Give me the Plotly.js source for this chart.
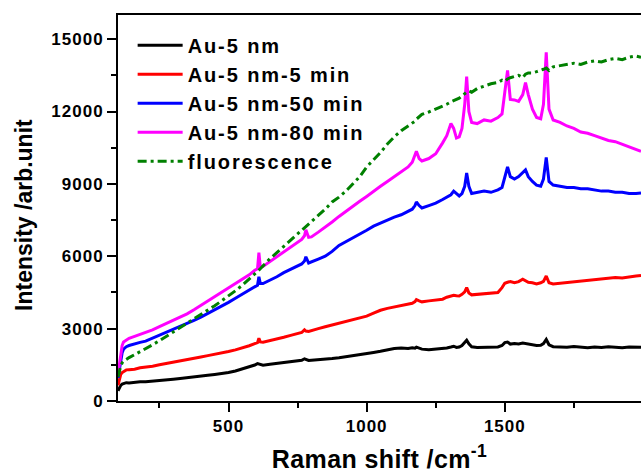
<!DOCTYPE html>
<html>
<head>
<meta charset="utf-8">
<script src="https://cdn.plot.ly/plotly-3.0.1.min.js"></script>
<style>
html,body{margin:0;padding:0;background:#fff;}
#chart{width:641px;height:473px;}
#chart .legendtext{letter-spacing:1.9px;}
#chart .legend .scrollbox{clip-path:none !important;}
#chart .xtick text, #chart .ytick text{letter-spacing:1px;}
#chart .xtitle{letter-spacing:0.4px;}
</style>
</head>
<body>
<div id="chart"></div>
<script>
// Raman shift (cm^-1)
var ramanShift = [100,105,110,115,120,130,140,160,180,200,
225,250,275,300,325,350,375,400,425,450,
475,500,525,550,575,595,605,610,615,625,
650,675,700,725,750,765,775,780,790,800,
825,850,875,900,925,950,975,1000,1025,1050,
1075,1100,1125,1150,1165,1175,1180,1190,1200,1225,
1250,1275,1290,1305,1315,1325,1335,1345,1355,1362,
1370,1380,1400,1425,1450,1475,1490,1500,1510,1520,
1535,1550,1565,1575,1585,1600,1615,1630,1640,1650,
1660,1675,1700,1725,1750,1775,1800,1825,1850,1875,
1900,1925,1950,1975,1993];

var seriesNames = ['Au-5 nm','Au-5 nm-5 min','Au-5 nm-50 min','Au-5 nm-80 min','fluorescence'];

var au5 = [420,560,650,700,730,760,745,780,800,795,
830,865,880,905,935,960,1000,1025,1065,1100,
1130,1180,1245,1330,1420,1490,1550,1530,1500,1485,
1520,1555,1600,1615,1650,1690,1750,1720,1680,1690,
1705,1740,1760,1790,1830,1870,1900,1950,2010,2060,
2120,2180,2200,2180,2210,2190,2230,2190,2150,2120,
2140,2180,2200,2240,2270,2220,2240,2300,2420,2520,
2370,2250,2220,2230,2220,2240,2300,2420,2440,2360,
2380,2360,2400,2380,2350,2320,2300,2310,2380,2550,
2330,2250,2240,2230,2260,2230,2210,2240,2220,2250,
2230,2210,2240,2220,2230];

var au5_5min = [650,900,1100,1180,1230,1290,1300,1320,1380,1400,
1440,1500,1550,1600,1660,1720,1760,1820,1880,1930,
1990,2050,2120,2200,2290,2380,2420,2600,2450,2440,
2500,2560,2640,2720,2800,2840,2950,2900,2880,2920,
3000,3080,3150,3220,3290,3360,3430,3520,3640,3760,
3840,3900,3960,4010,4050,4120,4200,4150,4110,4150,
4180,4220,4300,4340,4380,4360,4350,4420,4520,4700,
4480,4400,4420,4430,4460,4500,4700,4880,4920,4950,
4900,4950,5050,4980,4920,4900,4850,4900,4960,5180,
4900,4850,4880,4930,4960,5000,5020,5050,5080,5100,
5120,5100,5150,5180,5200];

var au5_50min = [950,1300,1700,2000,2150,2250,2300,2380,2430,2480,
2600,2720,2830,2950,3070,3200,3340,3480,3630,3770,
3930,4090,4260,4430,4600,4740,4800,5150,4880,4870,
5000,5150,5320,5450,5600,5680,5800,5980,5720,5760,
5880,6000,6200,6450,6600,6750,6900,7080,7250,7380,
7500,7620,7720,7850,7950,8100,8250,8100,8000,8100,
8200,8350,8450,8550,8700,8600,8500,8600,8900,9450,
8900,8600,8650,8700,8650,8750,8850,9300,9700,9300,
9200,9300,9450,9580,9300,9100,8950,8900,9200,10100,
9100,8950,8900,8850,8850,8800,8800,8750,8700,8700,
8650,8650,8600,8600,8620];

var au5_80min = [1100,1500,1900,2300,2450,2530,2600,2680,2760,2830,
2950,3080,3210,3340,3470,3610,3780,3960,4140,4320,
4500,4680,4860,5040,5230,5420,5480,6150,5560,5580,
5780,6000,6200,6400,6600,6700,6850,7100,6780,6800,
7000,7200,7420,7650,7870,8080,8280,8480,8700,8900,
9100,9300,9480,9700,9900,10200,10350,10050,9950,10050,
10250,10700,11000,11500,11300,10900,10950,11300,12300,13450,
12000,11550,11500,11650,11600,11750,11900,12800,13700,12500,
12480,12420,12700,13200,12700,12100,11750,11700,12300,14450,
12100,11650,11550,11400,11300,11150,11100,11000,10900,10800,
10750,10650,10550,10450,10350];

var fluorescence = [1000,1250,1450,1580,1650,1720,1800,1920,2040,2150,
2330,2500,2680,2850,3030,3200,3380,3560,3750,3950,
4150,4350,4570,4800,5050,5250,5350,5420,5480,5600,
5900,6150,6420,6680,6930,7080,7180,7230,7330,7430,
7700,7950,8250,8450,8700,9000,9300,9700,10000,10300,
10650,10950,11200,11400,11520,11600,11680,11780,11880,11980,
12100,12250,12300,12400,12450,12500,12550,12650,12750,12800,
12850,12800,12950,13050,13150,13200,13300,13250,13350,13400,
13450,13500,13400,13550,13600,13600,13650,13700,13750,13800,
13700,13850,13900,13950,14000,13950,14050,14100,14050,14150,
14200,14150,14250,14300,14250];

var xTickVals = [500,1000,1500,2000];
var yTickVals = [0,3000,6000,9000,12000,15000];
var yTickText = ['0','3000','6000','9000','12000','15000'];
var yTitleText = 'Intensity /arb.unit';

var colors = ['#000000','#ff0000','#0000ff','#ff00ff','#008000'];
var ys = [au5, au5_5min, au5_50min, au5_80min, fluorescence];

var traces = ys.map(function(y,i){
  return {
    x: ramanShift, y: y, name: seriesNames[i], type:'scatter', mode:'lines',
    line: {color: colors[i], width: 3, dash: i===4 ? '9px,4px,3px,4px' : 'solid'}
  };
});

var fontFam = '"Liberation Sans", Arial, sans-serif';
var layout = {
  width: 641, height: 473,
  margin: {l:118, r:0, t:15, b:72, pad:0},
  paper_bgcolor:'#fff', plot_bgcolor:'#fff',
  showlegend: true,
  legend: {
    x: 0.028, y: 0.972, xanchor:'left', yanchor:'top',
    bgcolor:'rgba(0,0,0,0)', borderwidth:0,
    font: {family: fontFam, size: 20, color:'#000', weight:'bold'},
    itemwidth: 45, tracegroupgap: 0
  },
  xaxis: {
    range:[100,1993], showgrid:false, zeroline:false,
    showline:true, linecolor:'#000', linewidth:2, mirror:true,
    ticks:'outside', ticklen:9, tickwidth:2, tickcolor:'#000',
    tickvals: xTickVals,
    tickfont:{family:fontFam, size:17, color:'#000', weight:'bold'},
    minor:{dtick:250, tick0:0, ticks:'outside', ticklen:5, tickwidth:2, tickcolor:'#000'},
    title:{text:'Raman shift /cm<sup>-1</sup>', font:{family:fontFam, size:25, color:'#000', weight:'bold'}, standoff:17}
  },
  yaxis: {
    range:[0,16000], showgrid:false, zeroline:false,
    showline:true, linecolor:'#000', linewidth:2, mirror:false,
    ticks:'outside', ticklen:9, tickwidth:2, tickcolor:'#000',
    tickvals: yTickVals, ticktext: yTickText,
    tickfont:{family:fontFam, size:17, color:'#000', weight:'bold'},
    minor:{dtick:1500, tick0:0, ticks:'outside', ticklen:5, tickwidth:2, tickcolor:'#000'}
  },
  annotations: [{
    text: yTitleText, xref:'paper', yref:'paper',
    x: -0.1797, y: 0.482, xanchor:'center', yanchor:'middle',
    textangle: -90, showarrow:false,
    font:{family:fontFam, size:23, color:'#000', weight:'bold'}
  }]
};

Plotly.newPlot('chart', traces, layout, {displayModeBar:false, staticPlot:true});
</script>
</body>
</html>
